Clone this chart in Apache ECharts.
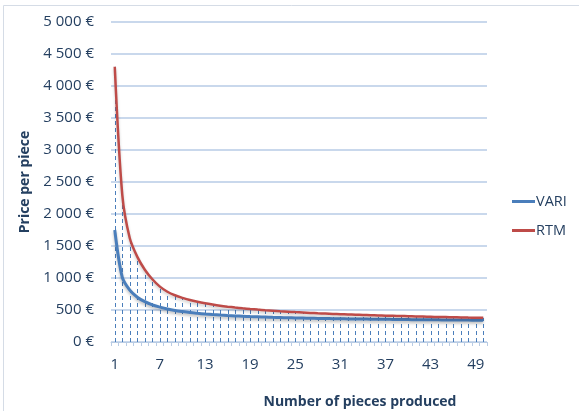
<!DOCTYPE html>
<html>
<head>
<meta charset="utf-8">
<script src="https://cdn.jsdelivr.net/npm/echarts@6/dist/echarts.min.js"></script>
<style>
  html, body { margin: 0; padding: 0; background: #ffffff; }
  #chart { width: 579px; height: 411px; }
</style>
</head>
<body>
<div id="chart"></div>
<script>
// Number of pieces produced (1..50)
const pieces = Array.from({ length: 50 }, (_, i) => String(i + 1));

// Price per piece, in euros
const vari = [
  1750, 1010, 810, 700, 630, 580, 545, 515, 492, 475,
  460, 448, 437, 428, 420, 413, 407, 402, 397, 393,
  389, 385, 382, 379, 376, 374, 371, 369, 367, 365,
  363, 361, 360, 358, 357, 355, 354, 353, 351, 350,
  349, 348, 347, 346, 345, 344, 343, 342, 341, 340
];
const rtm = [
  4300, 2300, 1620, 1330, 1130, 980, 865, 785, 730, 690,
  655, 628, 605, 585, 567, 552, 539, 527, 516, 506,
  497, 489, 481, 474, 467, 461, 455, 449, 444, 439,
  435, 431, 427, 423, 419, 416, 412, 409, 406, 403,
  400, 397, 394, 391, 389, 386, 384, 381, 379, 377
];

const seriesNames = ['VARI', 'RTM'];
const yTicks = { min: 0, max: 5000, interval: 500 };

const navy = '#243f60';
const font = 'Open Sans';

function euro(v) {
  const s = v >= 1000
    ? Math.floor(v / 1000) + ' ' + String(v % 1000).padStart(3, '0')
    : String(v);
  return s + ' €';
}

// Drop lines run from the axis up to the higher of the two curves
const dropData = pieces.map((_, i) => [i, Math.max(vari[i], rtm[i])]);

const chart = echarts.init(document.getElementById('chart'), null, { renderer: 'canvas' });

chart.setOption({
  backgroundColor: '#ffffff',
  animation: false,
  graphic: [{
    type: 'rect',
    shape: { x: 3.5, y: 5.5, width: 600, height: 420 },
    style: { fill: 'none', stroke: '#d5dce6', lineWidth: 1 },
    silent: true
  }],
  grid: { left: 111, right: 92, top: 22, bottom: 69, outerBoundsMode: 'none', containLabel: false },
  legend: {
    orient: 'vertical',
    left: 507,
    top: 189,
    icon: 'rect',
    itemWidth: 23,
    itemHeight: 3,
    itemGap: 14,
    textStyle: { color: navy, fontSize: 14.5, fontFamily: font, padding: [0, 0, 0, -4] },
    data: seriesNames
  },
  xAxis: {
    type: 'category',
    data: pieces,
    boundaryGap: true,
    name: 'Number of pieces produced',
    nameLocation: 'middle',
    nameGap: 53,
    nameTextStyle: {
      color: navy, fontSize: 14, fontWeight: 'bold', fontFamily: font,
      padding: [0, 0, 0, 122]
    },
    axisLine: { show: true, lineStyle: { color: '#b9cce4', width: 1 } },
    axisTick: { show: true, interval: 0, length: 4, lineStyle: { color: '#b9cce4' } },
    axisLabel: {
      interval: 5, color: navy, fontSize: 15, fontFamily: font, margin: 15
    },
    splitLine: { show: false }
  },
  yAxis: {
    type: 'value',
    min: yTicks.min,
    max: yTicks.max,
    interval: yTicks.interval,
    name: 'Price per piece',
    nameLocation: 'middle',
    nameGap: 72,
    nameTextStyle: { color: navy, fontSize: 14, fontWeight: 'bold', fontFamily: font },
    axisLine: { show: false },
    axisTick: { show: false },
    axisLabel: {
      color: navy, fontSize: 15, fontFamily: font, margin: 17,
      formatter: euro
    },
    splitLine: { show: true, lineStyle: { color: '#c9d8ec', width: 2 } }
  },
  series: [
    {
      type: 'custom',
      name: 'drop',
      silent: true,
      z: 1,
      data: dropData,
      renderItem: function (params, api) {
        const x = api.value(0);
        const top = api.value(1);
        const p0 = api.coord([x, 0]);
        const p1 = api.coord([x, top]);
        return {
          type: 'line',
          shape: { x1: Math.round(p0[0]) + 0.5, y1: p0[1], x2: Math.round(p1[0]) + 0.5, y2: p1[1] },
          style: { stroke: '#4a7ebb', lineWidth: 1, lineDash: [4, 3] }
        };
      }
    },
    {
      name: 'VARI',
      type: 'line',
      data: vari,
      smooth: 0.3,
      symbol: 'none',
      z: 3,
      lineStyle: {
        color: '#4a7ebb', width: 3,
        shadowColor: 'rgba(0,0,0,0.25)', shadowBlur: 3, shadowOffsetY: 2
      },
      itemStyle: { color: '#4a7ebb' }
    },
    {
      name: 'RTM',
      type: 'line',
      data: rtm,
      smooth: 0.3,
      symbol: 'none',
      z: 3,
      lineStyle: {
        color: '#be4b48', width: 2.5,
        shadowColor: 'rgba(0,0,0,0.2)', shadowBlur: 3, shadowOffsetY: 2
      },
      itemStyle: { color: '#be4b48' }
    }
  ]
});
</script>
</body>
</html>
